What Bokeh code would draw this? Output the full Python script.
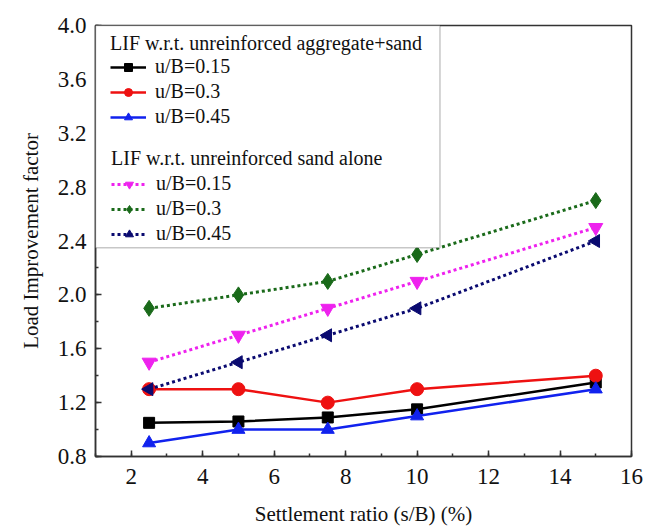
from bokeh.plotting import figure
from bokeh.models import (Legend, LegendItem, BoxAnnotation, SingleIntervalTicker,
                          NumeralTickFormatter, Range1d)
from bokeh.embed import file_html
from bokeh.resources import INLINE
import math

# ---------------- data ----------------
settlement_ratio = [2.5, 5, 7.5, 10, 15]
agg_ub015 = [1.05, 1.06, 1.09, 1.15, 1.35]
agg_ub030 = [1.30, 1.30, 1.20, 1.30, 1.40]
agg_ub045 = [0.90, 1.00, 1.00, 1.10, 1.30]
sand_ub015 = [1.50, 1.70, 1.90, 2.10, 2.50]
sand_ub030 = [1.90, 2.00, 2.10, 2.30, 2.70]
sand_ub045 = [1.30, 1.50, 1.70, 1.90, 2.40]
labels = ["u/B=0.15", "u/B=0.3", "u/B=0.45"]
heading_agg = "LIF w.r.t. unreinforced aggregate+sand"
heading_sand = "LIF w.r.t. unreinforced sand alone"

FONT = "'Liberation Serif', 'Times New Roman', serif"

p = figure(width=667, height=530, output_backend="svg", toolbar_location=None,
           x_range=Range1d(1, 16), y_range=Range1d(0.8, 4.0),
           min_border_left=95, min_border_right=36, min_border_top=25, min_border_bottom=74)
p.background_fill_color = "white"
p.border_fill_color = "white"
p.grid.visible = False
p.outline_line_color = "#333333"
p.outline_line_width = 1.5

for ax in (p.xaxis[0], p.yaxis[0]):
    ax.axis_line_color = "#333333"
    ax.axis_line_width = 1.5
    ax.major_tick_in = 6
    ax.major_tick_out = 0
    ax.minor_tick_in = 3
    ax.minor_tick_out = 0
    ax.major_tick_line_color = "#333333"
    ax.minor_tick_line_color = "#333333"
    ax.major_tick_line_width = 1.5
    ax.minor_tick_line_width = 1.5
    ax.major_label_text_font = FONT
    ax.major_label_text_font_size = "23px"
    ax.major_label_text_color = "#111111"
    ax.axis_label_text_font = FONT
    ax.axis_label_text_font_size = "21px"
    ax.axis_label_text_font_style = "normal"
    ax.axis_label_text_color = "#111111"

p.xaxis.ticker = SingleIntervalTicker(interval=2, num_minor_ticks=2)
p.yaxis.ticker = SingleIntervalTicker(interval=0.4, num_minor_ticks=2)
p.yaxis.formatter = NumeralTickFormatter(format="0.0")
p.xaxis.axis_label = "Settlement ratio (s/B) (%)"
p.yaxis.axis_label = "Load Improvement factor"
p.xaxis.major_label_standoff = 12
p.yaxis.major_label_standoff = 9
p.xaxis.axis_label_standoff = 15
p.yaxis.axis_label_standoff = 12

def series(y, color, marker, size, dash, lw, angle=0.0):
    ln = p.line(settlement_ratio, y, line_color=color, line_width=lw, line_dash=dash)
    sc = p.scatter(settlement_ratio, y, marker=marker, size=size, fill_color=color,
                   line_color=color, angle=angle)
    return [ln, sc]

r1 = series(agg_ub015, "#000000", "square", 11, "solid", 2.5)
r2 = series(agg_ub030, "#ee1111", "circle", 13, "solid", 2.5)
r3 = series(agg_ub045, "#1122ee", "triangle", 13, "solid", 2.5)
r4 = series(sand_ub015, "#ee22ee", "inverted_triangle", 14, "3 3", 3)
r5 = series(sand_ub030, "#1a6a1a", "diamond", 16, "3 3", 3)
r6 = series(sand_ub045, "#0a0a70", "triangle", 13, "3 3", 3, angle=math.pi / 2)

box = BoxAnnotation(left=1, right=10.64, top=4.0, bottom=2.35,
                    fill_color="white", fill_alpha=1.0,
                    line_color="#444444", line_width=1.5)
p.add_layout(box)

def make_legend(title, rs, loc, padding, spacing, standoff):
    lg = Legend(items=[LegendItem(label=l, renderers=r) for l, r in zip(labels, rs)],
                location=loc, title=title, margin=0, padding=padding,
                border_line_alpha=0, background_fill_alpha=0,
                glyph_width=36, glyph_height=20, label_standoff=9, spacing=spacing,
                label_text_font=FONT, label_text_font_size="20px",
                title_text_font=FONT, title_text_font_size="20px",
                title_text_font_style="normal", title_standoff=standoff,
                label_text_color="#111111", title_text_color="#111111")
    p.add_layout(lg)
    return lg

make_legend(heading_agg, [r1, r2, r3], (7, 320), 8, 2, 0)
make_legend(heading_sand, [r4, r5, r6], (6, 201), 10, 2, 2)

open("out.html", "w").write(file_html(p, INLINE))
